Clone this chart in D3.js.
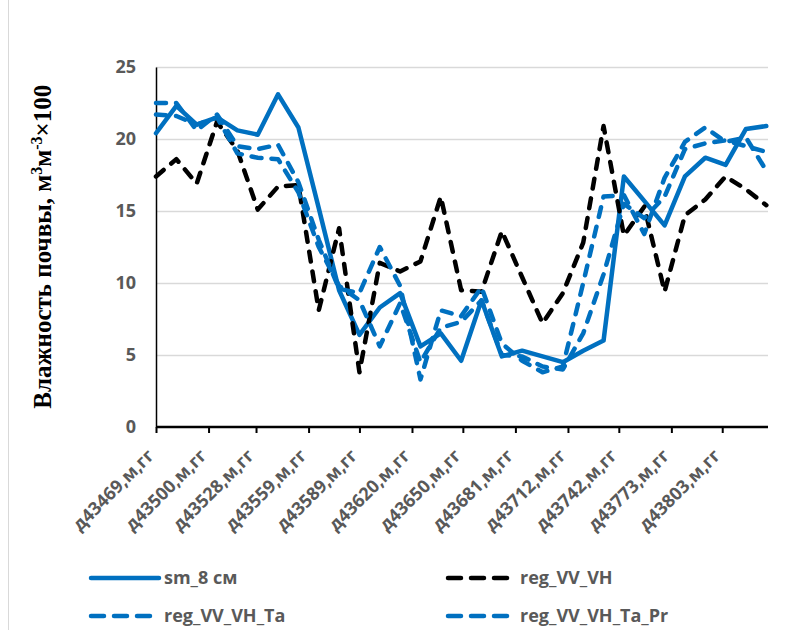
<!DOCTYPE html>
<html>
<head>
<meta charset="utf-8">
<script src="https://cdn.jsdelivr.net/npm/d3@7"></script>
<style>
  body { margin: 0; background: white; }
  svg { display: block; }
</style>
</head>
<body>
<div id="chart"></div>
<script>
// survey dates (Excel serial days) and soil moisture series
const dates = [43469, 43481, 43493, 43505, 43517, 43529, 43541, 43553, 43565, 43577, 43589,
  43601, 43613, 43625, 43637, 43649, 43661, 43673, 43685, 43697, 43709, 43721, 43733,
  43745, 43757, 43769, 43781, 43793, 43805, 43817, 43829];

const sm8 = [20.4, 22.3, 21.0, 21.5, 20.6, 20.3, 23.1, 20.8, 15.2, 9.5, 6.4, 8.3, 9.3, 5.6, 6.5,
  4.6, 8.8, 4.9, 5.3, 4.9, 4.5, 5.3, 6.0, 17.4, 15.7, 14.0, 17.4, 18.7, 18.2, 20.7, 20.9];

const regVH = [17.4, 18.6, 16.9, 21.2, 19.2, 15.1, 16.7, 16.8, 8.1, 13.8, 3.8, 11.4, 10.8, 11.5, 16.0,
  9.5, 9.4, 13.6, 10.4, 7.2, 9.3, 12.8, 20.9, 13.3, 15.3, 9.4, 14.7, 15.8, 17.4, 16.5, 15.4];

const regTa = [22.5, 22.5, 20.6, 21.7, 19.5, 19.3, 19.6, 17.0, 13.0, 9.6, 9.3, 12.5, 9.8, 3.3, 8.1,
  7.7, 9.7, 5.8, 4.6, 3.8, 4.2, 10.0, 16.0, 16.1, 13.4, 17.3, 19.8, 20.8, 19.8, 20.1, 17.8];

const regTaPr = [21.7, 21.6, 21.0, 21.5, 19.0, 18.7, 18.6, 16.3, 12.5, 9.8, 8.8, 5.6, 8.6, 4.5, 6.9,
  7.3, 8.8, 5.0, 4.9, 4.2, 4.0, 6.5, 10.6, 15.5, 14.5, 16.0, 19.3, 19.7, 19.9, 19.5, 19.1];

const tickDates = [43469, 43500, 43528, 43559, 43589, 43620, 43650, 43681, 43712, 43742, 43773, 43803];
const tickLabels = tickDates.map(d => "д" + d + ",м,гг");
const yTicks = [0, 5, 10, 15, 20, 25];

const seriesList = [
  { name: "sm_8 см", values: sm8, color: "#0070C0", dash: null },
  { name: "reg_VV_VH", values: regVH, color: "#000000", dash: "10,10" },
  { name: "reg_VV_VH_Ta", values: regTa, color: "#0070C0", dash: "10,10" },
  { name: "reg_VV_VH_Ta_Pr", values: regTaPr, color: "#0070C0", dash: "10,10" }
];

const width = 788;
const height = 630;
const plot = { left: 156, right: 768, top: 67, bottom: 427 };
const labelColor = "#595959";
const labelFont = "'Open Sans', sans-serif";

const svg = d3.select("#chart").append("svg")
  .attr("width", width)
  .attr("height", height)
  .style("background", "white");

// chart area border (left edge visible)
svg.append("line")
  .attr("x1", 8.5).attr("x2", 8.5)
  .attr("y1", 0).attr("y2", height)
  .attr("stroke", "#d9d9d9")
  .attr("stroke-width", 1);

const x = d3.scaleLinear().domain([43469, 43830]).range([plot.left, plot.right]);
const y = d3.scaleLinear().domain([0, 25]).range([plot.bottom, plot.top]);

// horizontal gridlines
svg.append("g")
  .attr("transform", `translate(${plot.left},0)`)
  .call(d3.axisLeft(y).tickValues(yTicks.slice(1)).tickSize(-(plot.right - plot.left)).tickFormat(""))
  .call(g => g.select(".domain").remove())
  .call(g => g.selectAll("line").attr("stroke", "#d9d9d9").attr("stroke-width", 1.5));

// y axis labels
const yAxis = svg.append("g")
  .attr("transform", `translate(${plot.left},0)`)
  .call(d3.axisLeft(y).tickValues(yTicks).tickSize(0).tickPadding(20));
yAxis.select(".domain").attr("stroke", "#000").attr("stroke-width", 1.5);
yAxis.selectAll("text")
  .style("font-family", labelFont)
  .style("font-size", "18px")
  .style("font-weight", "bold")
  .attr("fill", labelColor);

// x axis
const xAxis = svg.append("g")
  .attr("transform", `translate(0,${plot.bottom})`)
  .call(d3.axisBottom(x).tickValues(tickDates).tickSize(6).tickFormat(""));
xAxis.select(".domain").attr("stroke", "#000").attr("stroke-width", 2.5).attr("d", `M${plot.left},0H${plot.right}`);
xAxis.selectAll(".tick line").attr("stroke", "#000").attr("stroke-width", 2);

svg.append("g").selectAll("text")
  .data(tickDates)
  .join("text")
  .attr("transform", d => `translate(${x(d) - 1},457) rotate(-45)`)
  .attr("text-anchor", "end")
  .style("font-family", labelFont)
  .style("font-size", "18px")
  .style("font-weight", "bold")
  .attr("fill", labelColor)
  .text((d, i) => tickLabels[i]);

// y axis title
const title = svg.append("text")
  .attr("transform", "translate(51,246.7) rotate(-90)")
  .attr("text-anchor", "middle")
  .style("font-family", "'Liberation Serif', 'Times New Roman', serif")
  .style("font-size", "25px")
  .style("font-weight", "bold")
  .attr("fill", "#000");
title.append("tspan").text("Влажность почвы, м");
title.append("tspan").attr("dy", -9).style("font-size", "16px").text("3");
title.append("tspan").attr("dy", 9).text("м");
title.append("tspan").attr("dy", -9).style("font-size", "16px").text("-3");
title.append("tspan").attr("dy", 9).text("×100");

// series lines
const line = d3.line()
  .x((d, i) => x(dates[i]))
  .y(d => y(d));

const linesGroup = svg.append("g");
seriesList.forEach(s => {
  linesGroup.append("path")
    .datum(s.values)
    .attr("d", line)
    .attr("fill", "none")
    .attr("stroke", s.color)
    .attr("stroke-width", 4.5)
    .attr("stroke-linejoin", "round")
    .attr("stroke-linecap", "round")
    .attr("stroke-dasharray", s.dash);
});

// legend
const legendPos = [
  { lx1: 91, lx2: 159, tx: 164, y: 578 },
  { lx1: 448, lx2: 509, tx: 520, y: 578 },
  { lx1: 91, lx2: 153, tx: 164, y: 616 },
  { lx1: 448, lx2: 509, tx: 520, y: 616 }
];

const legend = svg.append("g").selectAll("g")
  .data(seriesList)
  .join("g");

legend.append("line")
  .attr("x1", (d, i) => legendPos[i].lx1)
  .attr("x2", (d, i) => legendPos[i].lx2)
  .attr("y1", (d, i) => legendPos[i].y)
  .attr("y2", (d, i) => legendPos[i].y)
  .attr("stroke", d => d.color)
  .attr("stroke-width", 4.5)
  .attr("stroke-linecap", "round")
  .attr("stroke-dasharray", d => d.dash ? "13,10" : null);

legend.append("text")
  .attr("x", (d, i) => legendPos[i].tx)
  .attr("y", (d, i) => legendPos[i].y)
  .attr("dy", "0.35em")
  .style("font-family", labelFont)
  .style("font-size", "18px")
  .style("font-weight", "bold")
  .attr("fill", labelColor)
  .text(d => d.name);
</script>
</body>
</html>
